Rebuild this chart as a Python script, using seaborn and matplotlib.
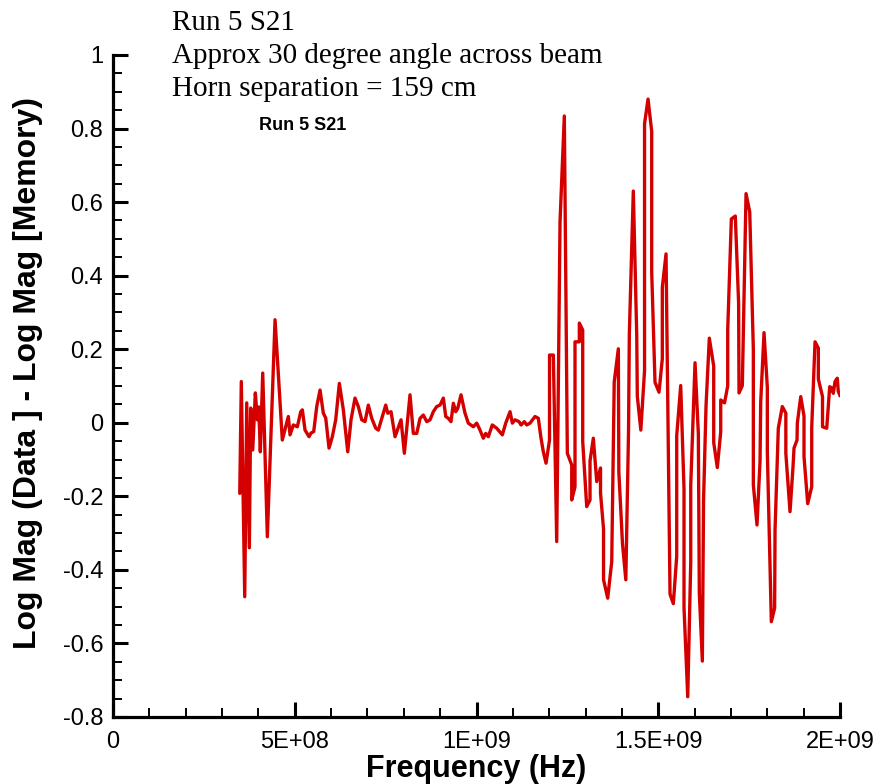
import matplotlib
matplotlib.use("Agg")
import matplotlib.pyplot as plt
import matplotlib.ticker as mticker
import seaborn as sns
import pandas as pd

# Frequency (MHz) and Log Mag (Data) - Log Mag (Memory)
freq_mhz = [
    348.6, 352.9, 362.3, 367.8, 375.0, 378.8, 384.3, 391.5, 397.0, 400.8,
    405.2, 411.8, 424.5, 445.7, 465.7, 482.3, 486.9, 496.0, 507.0, 516.4,
    520.8, 528.2, 539.2, 544.7, 552.1, 560.4, 569.5, 578.5, 585.1, 594.2,
    603.3, 612.6, 622.6, 633.6, 645.7, 654.7, 665.7, 674.8, 684.2, 693.3,
    702.3, 711.7, 722.7, 729.8, 740.8, 750.2, 755.7, 764.8, 775.8, 792.3,
    801.4, 817.0, 826.1, 835.5, 844.6, 853.6, 863.0, 872.1, 881.1, 890.5,
    899.6, 908.7, 915.3, 922.4, 929.8, 936.2, 942.8, 948.3, 957.3, 968.3,
    977.4, 991.2, 1000.5, 1009.6, 1018.7, 1025.3, 1032.4, 1043.4, 1055.6, 1071.0,
    1080.3, 1092.2, 1098.5, 1105.9, 1116.9, 1122.4, 1131.5, 1138.1, 1147.2, 1160.9,
    1170.0, 1177.4, 1183.8, 1191.2, 1200.8, 1200.8, 1211.3, 1220.6, 1229.7, 1241.5,
    1249.8, 1261.9, 1261.9, 1270.9, 1270.9, 1282.8, 1282.8, 1292.1, 1292.1, 1303.1,
    1312.2, 1312.2, 1321.3, 1330.7, 1341.1, 1341.1, 1349.4, 1349.4, 1360.9, 1371.9,
    1378.8, 1390.1, 1391.5, 1401.6, 1410.7, 1418.2, 1420.3, 1431.3, 1440.7, 1442.3,
    1452.0, 1462.2, 1462.2, 1471.8, 1481.9, 1481.9, 1491.0, 1502.0, 1511.1, 1511.1,
    1521.3, 1532.3, 1541.4, 1550.7, 1550.7, 1561.7, 1570.8, 1570.8, 1581.0, 1589.3,
    1589.3, 1601.1, 1610.2, 1612.9, 1621.2, 1624.5, 1631.3, 1640.4, 1652.5, 1652.5,
    1662.4, 1671.8, 1671.8, 1682.2, 1691.0, 1691.0, 1701.0, 1711.9, 1721.0, 1722.1,
    1731.2, 1741.4, 1751.6, 1761.5, 1761.5, 1771.6, 1779.9, 1781.8, 1790.9, 1800.0,
    1800.0, 1811.0, 1820.1, 1821.2, 1830.2, 1841.2, 1850.9, 1850.9, 1862.4, 1870.7,
    1873.4, 1881.7, 1882.5, 1891.9, 1900.9, 1900.9, 1911.1, 1922.1, 1922.1, 1931.2,
    1940.3, 1940.3, 1951.8, 1951.8, 1963.4, 1971.6, 1977.9, 1981.5, 1986.2, 1992.5,
    1995.0, 2000.0,
]
log_mag_diff = [
    -0.192, 0.112, -0.473, 0.054, -0.340, 0.040, -0.074, 0.081, 0.008, 0.043,
    -0.079, 0.135, -0.310, 0.280, -0.047, 0.017, -0.033, -0.006, -0.011, 0.030,
    0.035, -0.020, -0.038, -0.028, -0.024, 0.044, 0.089, 0.026, 0.013, -0.069,
    -0.038, 0.008, 0.107, 0.035, -0.079, 0.008, 0.067, 0.044, 0.008, 0.003,
    0.048, 0.012, -0.015, -0.020, 0.017, 0.048, 0.026, 0.030, -0.038, 0.008,
    -0.083, 0.076, -0.029, -0.029, 0.012, 0.021, 0.003, 0.008, 0.030, 0.044,
    0.048, 0.067, 0.017, 0.012, 0.003, 0.053, 0.030, 0.039, 0.076, 0.026,
    -0.001, -0.011, -0.001, -0.020, -0.042, -0.029, -0.038, -0.006, -0.015, -0.033,
    -0.001, 0.030, -0.001, 0.008, 0.003, -0.006, 0.003, -0.006, -0.001, 0.017,
    0.012, -0.042, -0.079, -0.110, -0.047, 0.184, 0.184, -0.323, 0.547, 0.834,
    -0.083, -0.115, -0.210, -0.174, 0.220, 0.220, 0.271, 0.252, -0.051, -0.228,
    -0.210, -0.104, -0.042, -0.160, -0.123, -0.191, -0.289, -0.427, -0.477, -0.378,
    0.111, 0.201, -0.134, -0.330, -0.427, -0.020, 0.239, 0.630, 0.239, 0.072,
    -0.020, 0.142, 0.813, 0.880, 0.792, 0.410, 0.110, 0.083, 0.174, 0.368,
    0.459, -0.466, -0.492, -0.363, -0.035, 0.101, -0.181, -0.503, -0.745, -0.379,
    -0.170, 0.163, -0.030, -0.463, -0.648, -0.213, 0.045, 0.230, 0.154, -0.054,
    -0.122, -0.025, 0.062, 0.054, 0.100, 0.252, 0.554, 0.562, 0.325, 0.081,
    0.101, 0.623, 0.573, 0.199, -0.169, -0.278, -0.105, 0.057, 0.245, 0.096,
    -0.079, -0.541, -0.504, -0.291, -0.015, 0.044, 0.026, -0.083, -0.242, -0.119,
    -0.069, -0.047, -0.001, 0.071, 0.018, -0.092, -0.220, -0.174, -0.013, 0.220,
    0.203, 0.119, 0.071, -0.011, -0.015, 0.098, 0.094, 0.080, 0.112, 0.121,
    0.086, 0.073,
]

x_ticks = [0, 5e8, 1e9, 1.5e9, 2e9]
x_tick_labels = ["0", "5E+08", "1E+09", "1.5E+09", "2E+09"]
y_ticks = [-0.8, -0.6, -0.4, -0.2, 0, 0.2, 0.4, 0.6, 0.8, 1]
y_tick_labels = ["-0.8", "-0.6", "-0.4", "-0.2", "0", "0.2", "0.4", "0.6", "0.8", "1"]
title_lines = ["Run 5 S21", "Approx 30 degree angle across beam", "Horn separation = 159 cm"]
series_label = "Run 5 S21"

df = pd.DataFrame({"freq": [f * 1e6 for f in freq_mhz], "val": log_mag_diff})

sns.set_style("ticks")
plt.rcParams["font.family"] = ["Liberation Sans", "DejaVu Sans"]
plt.rcParams["text.color"] = "black"
plt.rcParams["axes.labelcolor"] = "black"

fig = plt.figure(figsize=(8.81, 7.84), dpi=100)
ax = fig.add_axes([0.1283, 0.0855, 0.8252, 0.8444])

sns.lineplot(data=df, x="freq", y="val", ax=ax, sort=False, estimator=None,
             color="#d40000", linewidth=2.4)

ax.set_xlim(0, 2e9)
ax.set_ylim(-0.8, 1.0)
ax.set_xticks(x_ticks)
ax.set_xticklabels(x_tick_labels)
ax.set_yticks(y_ticks)
ax.set_yticklabels(y_tick_labels)
ax.xaxis.set_minor_locator(mticker.MultipleLocator(1e8))
ax.yaxis.set_minor_locator(mticker.MultipleLocator(0.05))

for s in ["top", "right"]:
    ax.spines[s].set_visible(False)
for s in ["left", "bottom"]:
    ax.spines[s].set_linewidth(2.3)
    ax.spines[s].set_color("black")

ax.tick_params(which="major", direction="in", length=11, width=2.2, labelsize=17,
               colors="black")
ax.tick_params(which="minor", direction="in", length=6.5, width=1.4, colors="black")
ax.tick_params(axis="x", which="major", pad=10)
ax.tick_params(axis="y", which="major", pad=7)

ax.set_xlabel("Frequency (Hz)", fontsize=22, fontweight="bold", color="black")
ax.set_ylabel("Log Mag (Data ] - Log Mag [Memory)", fontsize=23, fontweight="bold",
              color="black")
ax.xaxis.set_label_coords(0.5, -0.056)
ax.yaxis.set_label_coords(-0.097, 0.52)
ax.grid(False)

ys = [1 - 30 / 784, 1 - 63 / 784, 1 - 96 / 784]
for line, y in zip(title_lines, ys):
    fig.text(172 / 881, y, line, fontsize=21, va="baseline", ha="left", color="black",
             family=["Liberation Serif", "DejaVu Serif"])

fig.text(259 / 881, 1 - 126 / 784, series_label, fontsize=13, fontweight="bold",
         va="center", ha="left", color="black")

fig.savefig("out.png", dpi=100)
